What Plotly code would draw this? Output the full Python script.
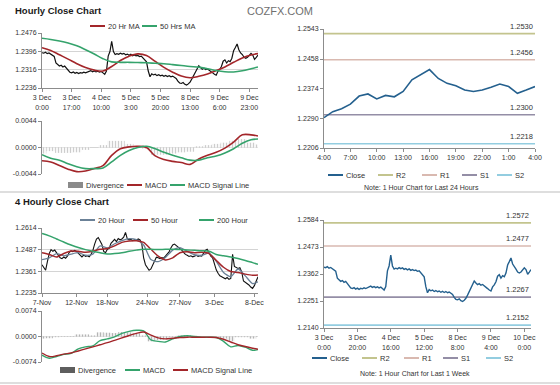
import plotly.graph_objects as go
import numpy as np

# ---------------- data ----------------
# Hourly close, 3 Dec 0:00 -> 10 Dec 4:00 (weekend skipped)
labels_1h = ["3 Dec<br>0:00", "3 Dec<br>17:00", "4 Dec<br>10:00", "5 Dec<br>3:00",
             "5 Dec<br>20:00", "8 Dec<br>13:00", "9 Dec<br>6:00", "9 Dec<br>23:00"]
tick_idx_1h = [0, 17, 34, 51, 68, 85, 102, 119]
close_1h = [
    1.2390, 1.2388, 1.2392, 1.2386, 1.2389, 1.2384, 1.2380, 1.2374,
    1.2345, 1.2338, 1.2332, 1.2335, 1.2328, 1.2332, 1.2322, 1.2312,
    1.2305, 1.2302, 1.2306, 1.2300, 1.2304, 1.2299, 1.2303, 1.2301,
    1.2305, 1.2302, 1.2306, 1.2309, 1.2312, 1.2307, 1.2310, 1.2306,
    1.2309, 1.2305, 1.2308, 1.2302, 1.2296, 1.2310, 1.2375, 1.2395,
    1.2440, 1.2395, 1.2382, 1.2386, 1.2383, 1.2388, 1.2384, 1.2387,
    1.2381, 1.2384, 1.2379, 1.2383, 1.2377, 1.2380, 1.2376, 1.2378,
    1.2373, 1.2375, 1.2368, 1.2360, 1.2350, 1.2310, 1.2285, 1.2298,
    1.2293, 1.2296, 1.2290, 1.2294, 1.2289, 1.2292, 1.2287, 1.2291,
    1.2286, 1.2290, 1.2285, 1.2288, 1.2284, 1.2278, 1.2266, 1.2258,
    1.2256, 1.2260, 1.2252, 1.2249, 1.2254, 1.2262, 1.2275, 1.2290,
    1.2305, 1.2322, 1.2333, 1.2325, 1.2318, 1.2322, 1.2316, 1.2319,
    1.2312, 1.2308, 1.2302, 1.2296,
    1.2292, 1.2309, 1.2317, 1.2330, 1.2353, 1.2359, 1.2345, 1.2355,
    1.2351, 1.2366, 1.2399, 1.2413, 1.2428, 1.2403, 1.2389, 1.2382,
    1.2370, 1.2366, 1.2370, 1.2378, 1.2387, 1.2380, 1.2361, 1.2370, 1.2380,
]
ma_idx_1h = list(range(0, 121, 5)) + [124]
ma20_1h = [1.2412, 1.2400, 1.2381, 1.2362, 1.2342, 1.2325, 1.2314, 1.2310, 1.2330,
           1.2356, 1.2375, 1.2385, 1.2378, 1.2352, 1.2326, 1.2305, 1.2288, 1.2281,
           1.2287, 1.2297, 1.2312, 1.2328, 1.2348, 1.2367, 1.2380, 1.2386]
ma50_1h = [1.2453, 1.2448, 1.2441, 1.2432, 1.2420, 1.2403, 1.2384, 1.2364, 1.2350,
           1.2348, 1.2348, 1.2347, 1.2346, 1.2344, 1.2342, 1.2338, 1.2334, 1.2330,
           1.2327, 1.2320, 1.2312, 1.2307, 1.2306, 1.2311, 1.2320, 1.2328]
macd_1h = [-0.0022, -0.0024, -0.0030, -0.0036, -0.0040, -0.0039, -0.0035, -0.0030,
           -0.0013, -0.0002, 0.0001, 0.0002, 0.0000, -0.0014, -0.0020, -0.0023,
           -0.0025, -0.0028, -0.0019, -0.0013, -0.0008, -0.0001, 0.0009, 0.0021,
           0.0021, 0.0019]
signal_1h = [-0.0012, -0.0018, -0.0021, -0.0027, -0.0032, -0.0035, -0.0035, -0.0034,
             -0.0024, -0.0013, -0.0005, 0.0000, 0.0002, -0.0002, -0.0008, -0.0013,
             -0.0017, -0.0021, -0.0021, -0.0017, -0.0014, -0.0009, -0.0002, 0.0007,
             0.0013, 0.0014]
ticks_1h_price = [1.2236, 1.2316, 1.2396, 1.2476]
ticks_1h_macd = [-0.0044, 0.0, 0.0044]

# Last 24 hours
labels_24h = ["4:00", "7:00", "10:00", "13:00", "16:00", "19:00", "22:00", "1:00", "4:00"]
ticks_24h = [1.2206, 1.2290, 1.2374, 1.2458, 1.2543]
level_names = ["R2", "R1", "S1", "S2"]
levels_24h = [1.2530, 1.2456, 1.2300, 1.2218]

# Last week
labels_week = ["3 Dec<br>0:00", "3 Dec<br>20:00", "4 Dec<br>16:00", "5 Dec<br>12:00",
               "8 Dec<br>8:00", "9 Dec<br>4:00", "10 Dec<br>0:00"]
ticks_week = [1.2140, 1.2251, 1.2362, 1.2473, 1.2584]
levels_week = [1.2572, 1.2477, 1.2267, 1.2152]

# 4-hourly
labels_4h = ["7-Nov", "12-Nov", "18-Nov", "24-Nov", "27-Nov", "3-Dec", "8-Dec"]
tick_idx_4h = [0, 19, 36, 58, 76, 95, 117]
close_4h = [
    1.2400, 1.2380, 1.2368, 1.2420, 1.2465, 1.2488, 1.2478, 1.2485, 1.2470, 1.2452,
    1.2440, 1.2435, 1.2445, 1.2438, 1.2450, 1.2472, 1.2480, 1.2476, 1.2484, 1.2478,
    1.2465, 1.2452, 1.2445, 1.2456, 1.2448, 1.2452, 1.2446, 1.2460, 1.2482, 1.2520,
    1.2550, 1.2558, 1.2540, 1.2518, 1.2478, 1.2470, 1.2490, 1.2495, 1.2525, 1.2540,
    1.2548, 1.2535, 1.2552, 1.2545, 1.2550, 1.2560, 1.2588, 1.2550, 1.2545, 1.2548,
    1.2540, 1.2546, 1.2543, 1.2550, 1.2544, 1.2520, 1.2440, 1.2400, 1.2386, 1.2368,
    1.2375, 1.2396, 1.2420, 1.2444, 1.2440, 1.2436, 1.2442, 1.2438, 1.2450, 1.2462,
    1.2475, 1.2498, 1.2515, 1.2520, 1.2512, 1.2505, 1.2498, 1.2485, 1.2472, 1.2460,
    1.2455, 1.2448, 1.2452, 1.2446, 1.2450, 1.2455, 1.2448, 1.2452, 1.2450, 1.2465,
    1.2483, 1.2490, 1.2465, 1.2450, 1.2440, 1.2400, 1.2370, 1.2350, 1.2335, 1.2330,
    1.2322, 1.2318, 1.2325, 1.2315, 1.2320, 1.2460, 1.2390, 1.2384, 1.2378, 1.2382,
    1.2360, 1.2305, 1.2298, 1.2290, 1.2282, 1.2270, 1.2262, 1.2278, 1.2305, 1.2330,
]
ma_idx_4h = list(range(0, 117, 4)) + [119]
ma20_4h = [1.2430, 1.2440, 1.2465, 1.2452, 1.2462, 1.2470, 1.2455, 1.2462, 1.2510, 1.2498,
           1.2522, 1.2540, 1.2552, 1.2546, 1.2515, 1.2430, 1.2418, 1.2442, 1.2485, 1.2500,
           1.2478, 1.2458, 1.2455, 1.2468, 1.2420, 1.2355, 1.2330, 1.2375, 1.2335, 1.2290,
           1.2300]
ma50_4h = [1.2470, 1.2460, 1.2445, 1.2465, 1.2480, 1.2478, 1.2472, 1.2478, 1.2490, 1.2495,
           1.2510, 1.2530, 1.2538, 1.2540, 1.2530, 1.2490, 1.2450, 1.2428, 1.2440, 1.2470,
           1.2475, 1.2470, 1.2472, 1.2465, 1.2425, 1.2385, 1.2360, 1.2355, 1.2345, 1.2338,
           1.2340]
ma200_4h = [1.2582, 1.2568, 1.2550, 1.2532, 1.2515, 1.2500, 1.2488, 1.2478, 1.2470, 1.2462,
            1.2465, 1.2470, 1.2478, 1.2485, 1.2490, 1.2490, 1.2488, 1.2490, 1.2490, 1.2488,
            1.2486, 1.2484, 1.2482, 1.2478, 1.2460, 1.2452, 1.2445, 1.2436, 1.2425, 1.2412,
            1.2402]
macd_4h = [-0.0054, -0.0063, -0.0058, -0.0052, -0.0049, -0.0036, -0.0030, -0.0027, -0.0012,
           -0.0007, -0.0001, 0.0009, 0.0015, 0.0018, 0.0016, -0.0010, -0.0014, -0.0016,
           -0.0007, 0.0000, 0.0002, 0.0000, -0.0002, -0.0002, -0.0003, -0.0014, -0.0030,
           -0.0026, -0.0031, -0.0040, -0.0038]
signal_4h = [-0.0048, -0.0058, -0.0056, -0.0051, -0.0048, -0.0042, -0.0036, -0.0030, -0.0024,
             -0.0018, -0.0011, -0.0004, 0.0003, 0.0009, 0.0013, 0.0004, -0.0004, -0.0007,
             -0.0005, -0.0003, -0.0002, -0.0002, -0.0002, -0.0002, -0.0003, -0.0008, -0.0016,
             -0.0024, -0.0029, -0.0034, -0.0037]
ticks_4h_price = [1.2235, 1.2361, 1.2487, 1.2614]
ticks_4h_macd = [-0.0074, 0.0, 0.0074]

# ---------------- styling ----------------
W, H = 560, 385
FONT = "Liberation Sans, Arial, sans-serif"
RED = "#a3262a"
GREEN = "#35a36c"
SLATE = "#6b8197"
CLOSE_BLUE = "#24608e"
LEVEL_COLORS = ["#c3c48e", "#d9b9b0", "#948ea6", "#93cde0"]
AXIS = "#8c8c8c"
GRID = "#d4d4d4"
TXT = "#333333"
DIV_LIGHT = "#9c9c9c"
DIV_DARK = "#6a6a6a"


def dx(a, b):
    return [a / W, b / W]


def dy(top, bottom):
    return [1 - bottom / H, 1 - top / H]


def fmt(v):
    return f"{v:.4f}"


fig = go.Figure()

# ---- top-left hourly price ----
fig.add_trace(go.Scatter(x=list(range(len(close_1h))), y=close_1h, mode="lines",
                         line=dict(color="#111111", width=1.2), showlegend=False,
                         xaxis="x", yaxis="y"))
fig.add_trace(go.Scatter(x=ma_idx_1h, y=ma20_1h, mode="lines", name="20 Hr MA",
                         line=dict(color=RED, width=1.6, shape="spline"),
                         xaxis="x", yaxis="y", showlegend=False))
fig.add_trace(go.Scatter(x=ma_idx_1h, y=ma50_1h, mode="lines", name="50 Hrs MA",
                         line=dict(color=GREEN, width=1.6, shape="spline"),
                         xaxis="x", yaxis="y", showlegend=False))

# ---- top-left MACD ----
div_1h = (np.array(macd_1h) - np.array(signal_1h)).tolist()
fig.add_trace(go.Bar(x=ma_idx_1h, y=div_1h, name="Divergence", width=5,
                     marker=dict(color="rgba(0,0,0,0)", line=dict(width=0),
                                 pattern=dict(shape="|", fgcolor=DIV_LIGHT, bgcolor="white",
                                              size=3, solidity=0.45)),
                     xaxis="x2", yaxis="y2", showlegend=False))
fig.add_trace(go.Scatter(x=ma_idx_1h, y=macd_1h, mode="lines", name="MACD",
                         line=dict(color=RED, width=1.6, shape="spline"),
                         xaxis="x2", yaxis="y2", showlegend=False))
fig.add_trace(go.Scatter(x=ma_idx_1h, y=signal_1h, mode="lines", name="MACD Signal Line",
                         line=dict(color=GREEN, width=1.6, shape="spline"),
                         xaxis="x2", yaxis="y2", showlegend=False))

# ---- top-right 24h ----
close_24h = close_1h[-25:]
for nm, lv, c in zip(level_names, levels_24h, LEVEL_COLORS):
    fig.add_trace(go.Scatter(x=[0, len(close_24h) - 1], y=[lv, lv], mode="lines", name=nm,
                             line=dict(color=c, width=1.6), showlegend=False,
                             xaxis="x3", yaxis="y3"))
    fig.add_annotation(x=len(close_24h) - 1, y=lv, xref="x3", yref="y3", text=fmt(lv),
                       showarrow=False, xanchor="right", yanchor="bottom", yshift=1,
                       font=dict(size=7.5, color=TXT, family=FONT))
fig.add_trace(go.Scatter(x=list(range(len(close_24h))), y=close_24h, mode="lines",
                         name="Close", line=dict(color=CLOSE_BLUE, width=1.6),
                         showlegend=False, xaxis="x3", yaxis="y3"))

# ---- bottom-left 4-hourly price ----
fig.add_trace(go.Scatter(x=list(range(len(close_4h))), y=close_4h, mode="lines",
                         line=dict(color="#111111", width=1.1), showlegend=False,
                         xaxis="x4", yaxis="y4"))
fig.add_trace(go.Scatter(x=ma_idx_4h, y=ma20_4h, mode="lines", name="20 Hour",
                         line=dict(color=SLATE, width=1.3, shape="spline", smoothing=0.6),
                         xaxis="x4", yaxis="y4", showlegend=False))
fig.add_trace(go.Scatter(x=ma_idx_4h, y=ma50_4h, mode="lines", name="50 Hour",
                         line=dict(color=RED, width=1.5, shape="spline", smoothing=0.6),
                         xaxis="x4", yaxis="y4", showlegend=False))
fig.add_trace(go.Scatter(x=ma_idx_4h, y=ma200_4h, mode="lines", name="200 Hour",
                         line=dict(color=GREEN, width=1.5, shape="spline"),
                         xaxis="x4", yaxis="y4", showlegend=False))

# ---- bottom-left MACD ----
div_4h = (np.array(macd_4h) - np.array(signal_4h)).tolist()
fig.add_trace(go.Bar(x=ma_idx_4h, y=div_4h, name="Divergence", width=4,
                     marker=dict(color="rgba(0,0,0,0)", line=dict(width=0),
                                 pattern=dict(shape="|", fgcolor=DIV_DARK, bgcolor="white",
                                              size=3, solidity=0.5)),
                     xaxis="x5", yaxis="y5", showlegend=False))
fig.add_trace(go.Scatter(x=ma_idx_4h, y=macd_4h, mode="lines", name="MACD",
                         line=dict(color=GREEN, width=1.4, shape="spline"),
                         xaxis="x5", yaxis="y5", showlegend=False))
fig.add_trace(go.Scatter(x=ma_idx_4h, y=signal_4h, mode="lines", name="MACD Signal Line",
                         line=dict(color=RED, width=1.4, shape="spline"),
                         xaxis="x5", yaxis="y5", showlegend=False))

# ---- bottom-right week ----
for nm, lv, c in zip(level_names, levels_week, LEVEL_COLORS):
    fig.add_trace(go.Scatter(x=[0, len(close_1h) - 1], y=[lv, lv], mode="lines", name=nm,
                             line=dict(color=c, width=1.6), showlegend=False,
                             xaxis="x6", yaxis="y6"))
    fig.add_annotation(x=len(close_1h) - 1, y=lv, xref="x6", yref="y6", text=fmt(lv),
                       showarrow=False, xanchor="right", yanchor="bottom", yshift=1,
                       font=dict(size=7.5, color=TXT, family=FONT))
fig.add_trace(go.Scatter(x=list(range(len(close_1h))), y=close_1h, mode="lines",
                         name="Close", line=dict(color=CLOSE_BLUE, width=1.4),
                         showlegend=False, xaxis="x6", yaxis="y6"))

# ---------------- axes ----------------
tickfont = dict(size=7, color=TXT, family=FONT)


def xax(domain, rng, tickvals=None, ticktext=None, anchor=None, show=True):
    d = dict(domain=domain, range=rng, anchor=anchor, showgrid=False, zeroline=False,
             fixedrange=True, automargin=False)
    if show:
        d.update(showline=True, linecolor=AXIS, linewidth=1, ticks="outside", ticklen=3,
                 tickcolor=AXIS, tickvals=tickvals, ticktext=ticktext, tickfont=tickfont,
                 tickangle=0)
    else:
        d.update(showline=False, showticklabels=False, ticks="")
    return d


def yax(domain, ticks, anchor, grid=True):
    return dict(domain=domain, range=[ticks[0], ticks[-1]], anchor=anchor,
                tickvals=ticks, ticktext=[fmt(t) for t in ticks], tickfont=tickfont,
                showline=True, linecolor=AXIS, linewidth=1, ticks="outside", ticklen=3,
                tickcolor=AXIS, showgrid=grid, gridcolor=GRID, gridwidth=1,
                zeroline=False, fixedrange=True, automargin=False)


layout_axes = dict(
    xaxis=xax(dx(42, 258), [0, len(close_1h) - 1], tick_idx_1h, labels_1h, "y"),
    yaxis=yax(dy(33, 88), ticks_1h_price, "x"),
    xaxis2=xax(dx(42, 258), [0, len(close_1h) - 1], anchor="y2", show=False),
    yaxis2=yax(dy(121, 174), ticks_1h_macd, "x2"),
    xaxis3=xax(dx(324, 535), [0, len(close_24h) - 1], list(range(0, 25, 3)), labels_24h, "y3"),
    yaxis3=yax(dy(29, 148), ticks_24h, "x3", grid=False),
    xaxis4=xax(dx(42, 258), [0, len(close_4h) - 1], tick_idx_4h, labels_4h, "y4"),
    yaxis4=yax(dy(228, 293), ticks_4h_price, "x4"),
    xaxis5=xax(dx(42, 258), [0, len(close_4h) - 1], anchor="y5", show=False),
    yaxis5=yax(dy(311, 362), ticks_4h_macd, "x5"),
    xaxis6=xax(dx(324, 531), [0, len(close_1h) - 1], list(range(0, 121, 20)), labels_week, "y6"),
    yaxis6=yax(dy(220, 328), ticks_week, "x6", grid=False),
)

fig.update_layout(
    width=W, height=H, margin=dict(l=0, r=0, t=0, b=0, autoexpand=False),
    paper_bgcolor="white", plot_bgcolor="white", showlegend=False,
    font=dict(family=FONT, color=TXT), barmode="overlay",
    **layout_axes,
)


# ---------------- legend rows (drawn as keys) ----------------
def key_line(x0, y, color, name, w=15, lw=2):
    fig.add_shape(type="line", xref="paper", yref="paper", x0=x0 / W, x1=(x0 + w) / W,
                  y0=1 - y / H, y1=1 - y / H, line=dict(color=color, width=lw))
    fig.add_annotation(x=(x0 + w + 1) / W, y=1 - y / H, xref="paper", yref="paper",
                       text=name, showarrow=False, xanchor="left", yanchor="middle",
                       font=dict(size=7.5, color=TXT, family=FONT))


def key_rect(x0, y, color, name, w=15):
    fig.add_shape(type="rect", xref="paper", yref="paper", x0=x0 / W, x1=(x0 + w) / W,
                  y0=1 - (y + 3) / H, y1=1 - (y - 3) / H,
                  fillcolor=color, line=dict(width=0))
    fig.add_annotation(x=(x0 + w + 1) / W, y=1 - y / H, xref="paper", yref="paper",
                       text=name, showarrow=False, xanchor="left", yanchor="middle",
                       font=dict(size=7.5, color=TXT, family=FONT))


# top-left price
key_line(90, 26, RED, "20 Hr MA")
key_line(142, 26, GREEN, "50 Hrs MA")
# top-left MACD
key_rect(68, 185, "#8a8a8a", "Divergence")
key_line(127, 185, RED, "MACD")
key_line(170, 185, GREEN, "MACD Signal Line")
# top-right
key_line(328, 175, CLOSE_BLUE, "Close")
for x0, nm, c in zip([378, 422, 462, 497], level_names, LEVEL_COLORS):
    key_line(x0, 175, c, nm)
# bottom-left price
key_line(80, 220, SLATE, "20 Hour")
key_line(133, 220, RED, "50 Hour")
key_line(199, 220, GREEN, "200 Hour")
# bottom-left MACD
key_rect(60, 370, "#5e5e5e", "Divergence")
key_line(125, 370, GREEN, "MACD")
key_line(173, 370, RED, "MACD Signal Line")
# bottom-right
key_line(312, 358, CLOSE_BLUE, "Close")
for x0, nm, c in zip([362, 404, 443, 486], level_names, LEVEL_COLORS):
    key_line(x0, 358, c, nm)

# titles, brand, notes
fig.add_annotation(x=13 / W, y=1 - 10 / H, xref="paper", yref="paper", showarrow=False,
                   text="<b>Hourly Close Chart</b>", xanchor="left", yanchor="middle",
                   font=dict(size=9.5, color="#1a1a1a", family=FONT))
fig.add_annotation(x=13 / W, y=1 - 202 / H, xref="paper", yref="paper", showarrow=False,
                   text="<b>4 Hourly Close Chart</b>", xanchor="left", yanchor="middle",
                   font=dict(size=9.5, color="#1a1a1a", family=FONT))
fig.add_annotation(x=245 / W, y=1 - 11 / H, xref="paper", yref="paper", showarrow=False,
                   text="COZFX.COM", xanchor="left", yanchor="middle",
                   font=dict(size=11, color="#707070", family=FONT))
fig.add_annotation(x=421 / W, y=1 - 187 / H, xref="paper", yref="paper", showarrow=False,
                   text="Note: 1 Hour Chart for Last 24 Hours", xanchor="center",
                   yanchor="middle", font=dict(size=7, color=TXT, family=FONT))
fig.add_annotation(x=415 / W, y=1 - 373 / H, xref="paper", yref="paper", showarrow=False,
                   text="Note: 1 Hour Chart for Last 1 Week", xanchor="center",
                   yanchor="middle", font=dict(size=7, color=TXT, family=FONT))

# separators
for yy in (192, 383):
    fig.add_shape(type="line", xref="paper", yref="paper", x0=0, x1=1,
                  y0=1 - yy / H, y1=1 - yy / H, line=dict(color="#bdbdbd", width=1))

fig.write_html("out.html", config={"displayModeBar": False},
               post_script="document.body.style.margin='0px';")
